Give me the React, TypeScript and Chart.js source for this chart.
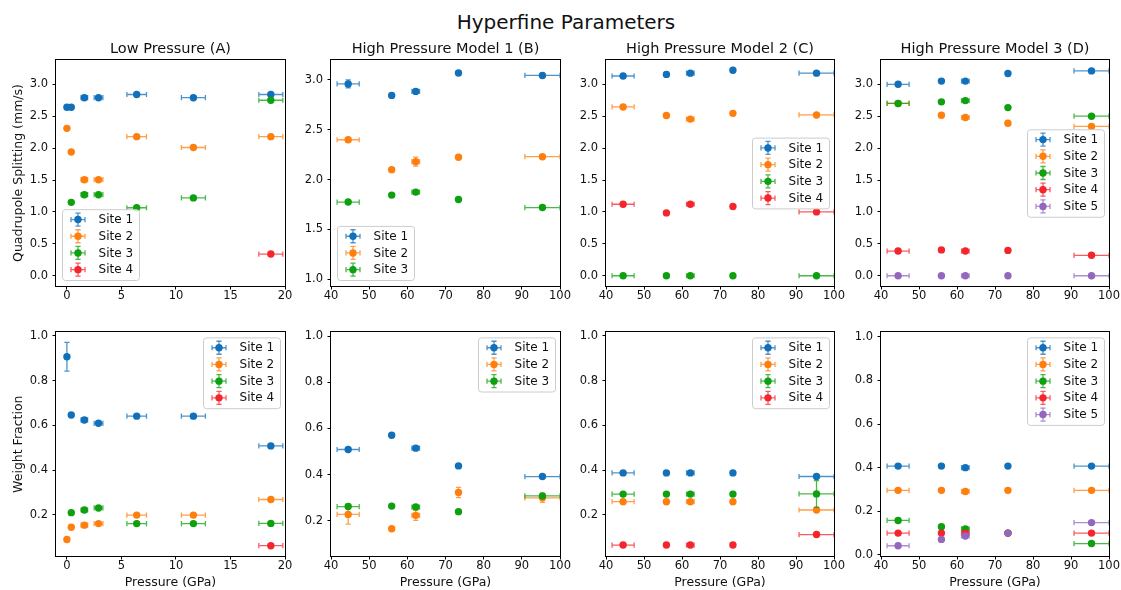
import React, { useEffect, useRef } from 'react';
import { Chart, registerables } from 'chart.js';
Chart.register(...registerables);

const FONT = '"DejaVu Sans", "Liberation Sans", sans-serif';

// ---- pressures (x values) ----
const lowP = [0, 0.4, 1.6, 2.9, 6.4, 11.6, 18.7];
const lowPErr = [0, 0, 0.3, 0.4, 0.9, 1.1, 1.1];
const highP = [44.5, 55.9, 62.2, 73.4, 95.4];
const highPErr = [2.9, 0.5, 1.0, 0, 4.6];

// ---- tick labels ----
const xTicksLow = [0, 5, 10, 15, 20];
const xTicksHigh = [40, 50, 60, 70, 80, 90, 100];
const yTicksQS = [0, 0.5, 1.0, 1.5, 2.0, 2.5, 3.0];
const yTicksQSB = [1.0, 1.5, 2.0, 2.5, 3.0];
const yTicksWF = [0.2, 0.4, 0.6, 0.8, 1.0];
const yTicksWFD = [0.0, 0.2, 0.4, 0.6, 0.8, 1.0];

// ---- Quadrupole splitting (mm/s) ----
const qsA1 = [2.64, 2.64, 2.79, 2.79, 2.84, 2.79, 2.84];
const qsA2 = [2.31, 1.94, 1.505, 1.505, 2.18, 2.01, 2.18];
const qsA3 = [null, 1.15, 1.27, 1.27, 1.065, 1.22, 2.75];
const qsA4 = [null, null, null, null, null, null, 0.34];

const qsB1 = [2.96, 2.845, 2.885, 3.07, 3.045];
const qsB1Err = [0.04, 0.02, 0.02, 0.015, 0.02];
const qsB2 = [2.4, 2.1, 2.18, 2.225, 2.23];
const qsB2Err = [0.02, 0.02, 0.045, 0.015, 0.02];
const qsB3 = [1.775, 1.845, 1.875, 1.8, 1.72];

const qsC1 = [3.13, 3.155, 3.175, 3.22, 3.175];
const qsC2 = [2.645, 2.51, 2.455, 2.545, 2.52];
const qsC3 = [0, 0, 0, 0, 0];
const qsC4 = [1.12, 0.985, 1.12, 1.085, 1.0];

const qsD1 = [3.0, 3.05, 3.05, 3.17, 3.21];
const qsD2 = [2.7, 2.515, 2.48, 2.39, 2.34];
const qsD3 = [2.7, 2.725, 2.745, 2.635, 2.5];
const qsD4 = [0.387, 0.405, 0.387, 0.397, 0.32];
const qsD5 = [0, 0, 0, 0, 0];

// ---- Weight fraction ----
const wfA1 = [0.907, 0.646, 0.624, 0.609, 0.641, 0.641, 0.508];
const wfA1Err = [0.064, 0.008, 0.008, 0.008, 0.008, 0.008, 0.008];
const wfA2 = [0.089, 0.144, 0.153, 0.16, 0.198, 0.198, 0.268];
const wfA3 = [null, 0.209, 0.221, 0.23, 0.16, 0.16, 0.161];
const wfA4 = [null, null, null, null, null, null, 0.061];

const wfB1 = [0.509, 0.571, 0.515, 0.438, 0.392];
const wfB2 = [0.228, 0.166, 0.224, 0.323, 0.3];
const wfB2Err = [0.042, 0.008, 0.022, 0.022, 0.02];
const wfB3 = [0.262, 0.264, 0.26, 0.24, 0.308];

const wfC1 = [0.387, 0.387, 0.387, 0.387, 0.371];
const wfC2 = [0.258, 0.258, 0.258, 0.258, 0.221];
const wfC3 = [0.292, 0.292, 0.292, 0.292, 0.293];
const wfC3Err = [0.008, 0.008, 0.008, 0.008, 0.06];
const wfC4 = [0.064, 0.064, 0.064, 0.064, 0.111];

const wfD1 = [0.407, 0.407, 0.4, 0.407, 0.407];
const wfD2 = [0.296, 0.296, 0.291, 0.296, 0.296];
const wfD3 = [0.158, 0.129, 0.119, 0.1, 0.052];
const wfD4 = [0.1, 0.1, 0.1, 0.1, 0.1];
const wfD5 = [0.042, 0.071, 0.087, 0.1, 0.148];

const siteLabels = ['Site 1', 'Site 2', 'Site 3', 'Site 4', 'Site 5'];
const COLORS = ['#1170b9', '#ff7f0e', '#0ea00e', '#f3262d', '#9467bd'];
const ERR_COLORS = ['rgba(17,112,185,0.75)', 'rgba(255,127,14,0.75)', 'rgba(14,160,14,0.75)', 'rgba(243,38,45,0.75)', 'rgba(148,103,189,0.75)'];

const DEFAULT_YERR_QS = 0.015;
const DEFAULT_YERR_WF = 0.006;

function pts(xs: number[], xe: number[], ys: (number | null)[], ye: number[] | number) {
  const out: any[] = [];
  ys.forEach((v, i) => {
    if (v === null || v === undefined) return;
    out.push({ x: xs[i], y: v, xerr: xe[i], yerr: Array.isArray(ye) ? ye[i] : ye });
  });
  return out;
}

const errorBarPlugin = {
  id: 'errorBars',
  beforeDatasetDraw(chart: any, args: any) {
    const ds = chart.data.datasets[args.index];
    const { ctx, chartArea: a } = chart;
    const xs = chart.scales.x, ys = chart.scales.y;
    const cap = 2.6;
    ctx.save();
    ctx.beginPath();
    ctx.rect(a.left, a.top, a.right - a.left, a.bottom - a.top);
    ctx.clip();
    ctx.strokeStyle = ds.errColor;
    ctx.lineWidth = 1.3;
    for (const p of ds.data) {
      const px = xs.getPixelForValue(p.x), py = ys.getPixelForValue(p.y);
      ctx.beginPath();
      if (p.xerr) {
        const x0 = xs.getPixelForValue(p.x - p.xerr), x1 = xs.getPixelForValue(p.x + p.xerr);
        ctx.moveTo(x0, py); ctx.lineTo(x1, py);
        ctx.moveTo(x0, py - cap); ctx.lineTo(x0, py + cap);
        ctx.moveTo(x1, py - cap); ctx.lineTo(x1, py + cap);
      }
      if (p.yerr) {
        const y0 = ys.getPixelForValue(p.y - p.yerr), y1 = ys.getPixelForValue(p.y + p.yerr);
        ctx.moveTo(px, y0); ctx.lineTo(px, y1);
        ctx.moveTo(px - cap, y0); ctx.lineTo(px + cap, y0);
        ctx.moveTo(px - cap, y1); ctx.lineTo(px + cap, y1);
      }
      ctx.stroke();
    }
    ctx.restore();
  },
};

const framePlugin = {
  id: 'frame',
  afterDatasetsDraw(chart: any) {
    const { ctx, chartArea: a } = chart;
    ctx.save();
    ctx.strokeStyle = '#000';
    ctx.lineWidth = 1;
    ctx.strokeRect(Math.round(a.left) - 0.5, Math.round(a.top) - 0.5, Math.round(a.right - a.left) + 1, Math.round(a.bottom - a.top) + 1);
    ctx.restore();
  },
};

const innerLegendPlugin = {
  id: 'innerLegend',
  afterDraw(chart: any, _args: any, opts: any) {
    if (!opts || !opts.loc) return;
    const { ctx, chartArea: a } = chart;
    const dss = chart.data.datasets;
    const n = dss.length;
    const rowH = 16.7;
    const w = 77;
    const h = n * rowH + 4;
    let bx = 0, by = 0;
    if (opts.loc === 'lower left') { bx = a.left + 6; by = a.bottom - 6 - h; }
    else if (opts.loc === 'upper right') { bx = a.right - 5 - w; by = a.top + 5; }
    else { bx = a.right - 5 - w; by = (a.top + a.bottom) / 2 - h / 2; }
    ctx.save();
    ctx.beginPath();
    ctx.roundRect(bx + 0.5, by + 0.5, w, h, 3);
    ctx.fillStyle = 'rgba(255,255,255,0.8)';
    ctx.fill();
    ctx.strokeStyle = '#cccccc';
    ctx.lineWidth = 1;
    ctx.stroke();
    const first = by + (h - (n - 1) * rowH) / 2;
    dss.forEach((ds: any, i: number) => {
      const cy = first + i * rowH;
      const mx = bx + 16;
      const cap = 2.6;
      ctx.strokeStyle = ds.errColor;
      ctx.lineWidth = 1.3;
      ctx.beginPath();
      ctx.moveTo(mx - 7, cy); ctx.lineTo(mx + 7, cy);
      ctx.moveTo(mx - 7, cy - cap); ctx.lineTo(mx - 7, cy + cap);
      ctx.moveTo(mx + 7, cy - cap); ctx.lineTo(mx + 7, cy + cap);
      ctx.moveTo(mx, cy - 6.5); ctx.lineTo(mx, cy + 6.5);
      ctx.moveTo(mx - cap, cy - 6.5); ctx.lineTo(mx + cap, cy - 6.5);
      ctx.moveTo(mx - cap, cy + 6.5); ctx.lineTo(mx + cap, cy + 6.5);
      ctx.stroke();
      ctx.beginPath();
      ctx.arc(mx, cy, 3.7, 0, Math.PI * 2);
      ctx.fillStyle = ds.backgroundColor;
      ctx.fill();
      ctx.fillStyle = '#111';
      ctx.font = `12px ${FONT}`;
      ctx.textBaseline = 'middle';
      ctx.textAlign = 'left';
      ctx.fillText(ds.label, bx + 36.6, cy + 0.5);
    });
    ctx.restore();
  },
};

type Series = { label: string; color: number; points: any[] };
type PanelSpec = {
  key: string;
  L: number; T: number; R: number; B: number;
  top: boolean;
  yW: number;
  xMin: number; xMax: number; yMin: number; yMax: number;
  xTicks: number[]; yTicks: number[];
  title?: string; yTitle?: string; xTitle?: string;
  legendLoc: string;
  series: Series[];
};

function mk(xs: number[], xe: number[], list: [(number | null)[], number[] | number][]): Series[] {
  return list.map(([ys, ye], i) => ({ label: siteLabels[i], color: i, points: pts(xs, xe, ys, ye) }));
}

const yRangeQS = [-0.161, 3.381];

const panels: PanelSpec[] = [
  {
    key: 'qsA', L: 56, T: 60, R: 285, B: 286, top: true, yW: 56,
    xMin: -1, xMax: 20, yMin: yRangeQS[0], yMax: yRangeQS[1], xTicks: xTicksLow, yTicks: yTicksQS,
    title: 'Low Pressure (A)', yTitle: 'Quadrupole Splitting (mm/s)', legendLoc: 'lower left',
    series: mk(lowP, lowPErr, [[qsA1, DEFAULT_YERR_QS], [qsA2, DEFAULT_YERR_QS], [qsA3, DEFAULT_YERR_QS], [qsA4, DEFAULT_YERR_QS]]),
  },
  {
    key: 'qsB', L: 331, T: 60, R: 560, B: 286, top: true, yW: 45,
    xMin: 40, xMax: 100, yMin: 0.933, yMax: 3.2, xTicks: xTicksHigh, yTicks: yTicksQSB,
    title: 'High Pressure Model 1 (B)', legendLoc: 'lower left',
    series: mk(highP, highPErr, [[qsB1, qsB1Err], [qsB2, qsB2Err], [qsB3, DEFAULT_YERR_QS]]),
  },
  {
    key: 'qsC', L: 606, T: 60, R: 834, B: 286, top: true, yW: 45,
    xMin: 40, xMax: 100, yMin: yRangeQS[0], yMax: yRangeQS[1], xTicks: xTicksHigh, yTicks: yTicksQS,
    title: 'High Pressure Model 2 (C)', legendLoc: 'center right',
    series: mk(highP, highPErr, [[qsC1, DEFAULT_YERR_QS], [qsC2, DEFAULT_YERR_QS], [qsC3, DEFAULT_YERR_QS], [qsC4, DEFAULT_YERR_QS]]),
  },
  {
    key: 'qsD', L: 881, T: 60, R: 1109, B: 286, top: true, yW: 45,
    xMin: 40, xMax: 100, yMin: yRangeQS[0], yMax: yRangeQS[1], xTicks: xTicksHigh, yTicks: yTicksQS,
    title: 'High Pressure Model 3 (D)', legendLoc: 'center right',
    series: mk(highP, highPErr, [[qsD1, DEFAULT_YERR_QS], [qsD2, DEFAULT_YERR_QS], [qsD3, DEFAULT_YERR_QS], [qsD4, DEFAULT_YERR_QS], [qsD5, DEFAULT_YERR_QS]]),
  },
  {
    key: 'wfA', L: 56, T: 331, R: 285, B: 556, top: false, yW: 56,
    xMin: -1, xMax: 20, yMin: 0.015, yMax: 1.016, xTicks: xTicksLow, yTicks: yTicksWF,
    yTitle: 'Weight Fraction', xTitle: 'Pressure (GPa)', legendLoc: 'upper right',
    series: mk(lowP, lowPErr, [[wfA1, wfA1Err], [wfA2, DEFAULT_YERR_WF], [wfA3, DEFAULT_YERR_WF], [wfA4, DEFAULT_YERR_WF]]),
  },
  {
    key: 'wfB', L: 331, T: 331, R: 560, B: 556, top: false, yW: 45,
    xMin: 40, xMax: 100, yMin: 0.048, yMax: 1.016, xTicks: xTicksHigh, yTicks: yTicksWF,
    xTitle: 'Pressure (GPa)', legendLoc: 'upper right',
    series: mk(highP, highPErr, [[wfB1, DEFAULT_YERR_WF], [wfB2, wfB2Err], [wfB3, DEFAULT_YERR_WF]]),
  },
  {
    key: 'wfC', L: 606, T: 331, R: 834, B: 556, top: false, yW: 45,
    xMin: 40, xMax: 100, yMin: 0.015, yMax: 1.016, xTicks: xTicksHigh, yTicks: yTicksWF,
    xTitle: 'Pressure (GPa)', legendLoc: 'upper right',
    series: mk(highP, highPErr, [[wfC1, DEFAULT_YERR_WF], [wfC2, DEFAULT_YERR_WF], [wfC3, wfC3Err], [wfC4, DEFAULT_YERR_WF]]),
  },
  {
    key: 'wfD', L: 881, T: 331, R: 1109, B: 556, top: false, yW: 45,
    xMin: 40, xMax: 100, yMin: -0.005, yMax: 1.02, xTicks: xTicksHigh, yTicks: yTicksWFD,
    xTitle: 'Pressure (GPa)', legendLoc: 'upper right',
    series: mk(highP, highPErr, [[wfD1, DEFAULT_YERR_WF], [wfD2, DEFAULT_YERR_WF], [wfD3, DEFAULT_YERR_WF], [wfD4, DEFAULT_YERR_WF], [wfD5, DEFAULT_YERR_WF]]),
  },
];

const PAD_R = 14;
const TOP_XH = 20;
const BOT_XH = 34;
const BOT_PAD_T = 10;

function geom(p: PanelSpec) {
  const left = p.L - p.yW;
  const width = p.yW + (p.R - p.L) + PAD_R;
  if (p.top) {
    return { left, top: 0, width, height: p.B + TOP_XH };
  }
  return { left, top: p.T - BOT_PAD_T, width, height: BOT_PAD_T + (p.B - p.T) + BOT_XH };
}

function Panel({ p }: { p: PanelSpec }) {
  const ref = useRef<HTMLCanvasElement>(null);
  const g = geom(p);
  useEffect(() => {
    const tickFont = { family: FONT, size: 11.5 };
    const chart = new Chart(ref.current as HTMLCanvasElement, {
      type: 'scatter',
      data: {
        datasets: p.series.map((s, i) => ({
          label: s.label,
          data: s.points,
          backgroundColor: COLORS[s.color],
          borderColor: COLORS[s.color],
          pointRadius: 3.7,
          pointHoverRadius: 3.7,
          pointBorderWidth: 0,
          order: -i,
          errColor: ERR_COLORS[s.color],
        })) as any,
      },
      options: {
        responsive: false,
        animation: false,
        devicePixelRatio: 1,
        events: [],
        layout: { padding: { left: 0, right: PAD_R, top: p.top ? 0 : BOT_PAD_T, bottom: 0 } },
        plugins: {
          legend: { display: false },
          tooltip: { enabled: false },
          title: p.title
            ? {
                display: true,
                fullSize: false,
                align: 'center',
                text: p.title,
                color: '#111',
                font: { family: FONT, size: 14.5, weight: 'normal', lineHeight: 1.2 },
                padding: { top: 40.3, bottom: p.T - 40.3 - 14.5 * 1.2 },
              }
            : { display: false },
          innerLegend: { loc: p.legendLoc },
        } as any,
        scales: {
          x: {
            type: 'linear',
            min: p.xMin,
            max: p.xMax,
            afterFit: (s: any) => { s.height = p.top ? TOP_XH : BOT_XH; },
            afterBuildTicks: (s: any) => { s.ticks = p.xTicks.map((v) => ({ value: v })); },
            ticks: {
              font: tickFont, color: '#111', padding: 0, maxRotation: 0, autoSkip: false,
              callback: (v: any) => String(v),
            },
            grid: { display: true, drawOnChartArea: false, drawTicks: true, tickLength: 3.5, color: '#000', lineWidth: 1 },
            border: { display: false },
            title: p.xTitle
              ? { display: true, text: p.xTitle, color: '#111', font: { family: FONT, size: 12.5, lineHeight: 1.2 }, padding: { top: 0, bottom: 0 } }
              : { display: false },
          },
          y: {
            type: 'linear',
            min: p.yMin,
            max: p.yMax,
            afterFit: (s: any) => { s.width = p.yW; },
            afterBuildTicks: (s: any) => { s.ticks = p.yTicks.map((v) => ({ value: v })); },
            ticks: {
              font: tickFont, color: '#111', padding: 4.5, autoSkip: false,
              callback: (v: any) => Number(v).toFixed(1),
            },
            grid: { display: true, drawOnChartArea: false, drawTicks: true, tickLength: 3.5, color: '#000', lineWidth: 1 },
            border: { display: false },
            title: p.yTitle
              ? { display: true, text: p.yTitle, color: '#111', font: { family: FONT, size: 12.5, lineHeight: 1.2 }, padding: { top: 10.8, bottom: 0 } }
              : { display: false },
          },
        },
      } as any,
      plugins: [errorBarPlugin, framePlugin, innerLegendPlugin] as any,
    });
    return () => chart.destroy();
  }, []);
  return (
    <div style={{ position: 'absolute', left: g.left, top: g.top, width: g.width, height: g.height }}>
      <canvas ref={ref} width={g.width} height={g.height} style={{ display: 'block', width: g.width, height: g.height }} />
    </div>
  );
}

export default function App() {
  return (
    <div style={{ position: 'fixed', left: 0, top: 0, width: 1121, height: 590, overflow: 'hidden', background: '#fff' }}>
      <div
        style={{
          position: 'absolute', left: 0, top: 10, width: 1132, height: 24, lineHeight: '24px',
          textAlign: 'center', fontFamily: FONT, fontSize: 20, color: '#111',
        }}
      >
        Hyperfine Parameters
      </div>
      {panels.map((p) => (
        <Panel key={p.key} p={p} />
      ))}
    </div>
  );
}
